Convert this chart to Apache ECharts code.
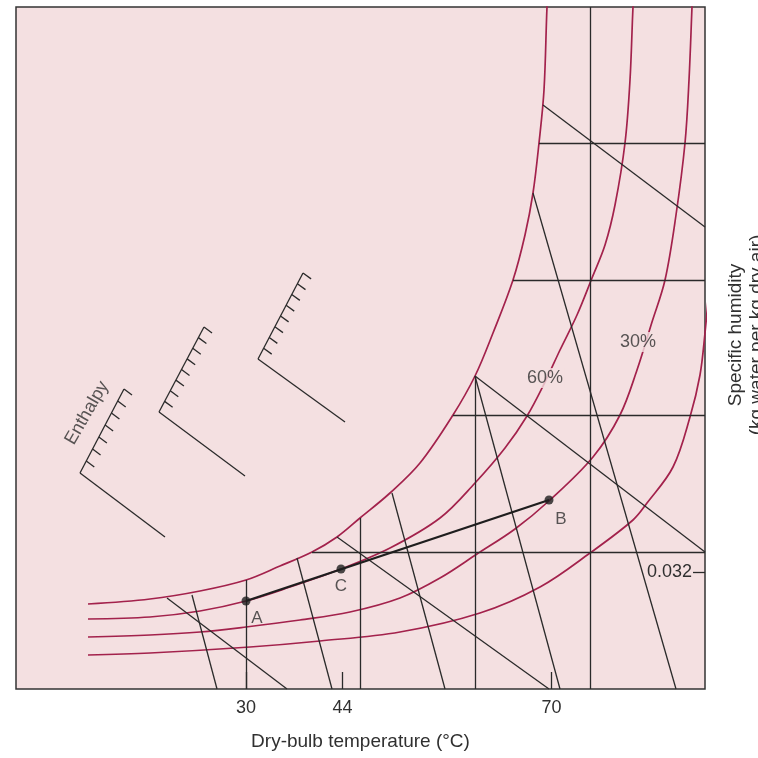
<!DOCTYPE html>
<html>
<head>
<meta charset="utf-8">
<script src="https://cdn.jsdelivr.net/npm/echarts@6/dist/echarts.min.js"></script>
<style>html,body{margin:0;padding:0;background:#fff;}#c{width:758px;height:758px;}</style>
</head>
<body>
<div id="c"></div>
<script>
// Schematic psychrometric chart (chart units: schematic coordinates)
const xTickValues = [230, 326.5, 535.5];
const xTickLabels = ['30', '44', '70'];
const yTickValues = [117];
const yTickLabels = ['0.032'];

// relative humidity curves
const rh100 = [[72,85],[134,90],[184,98],[230,109],[264,123],[296,137],[321,152],[344,171],[374,196],[404,226],[437,274],[459,313],[477,356],[497,409],[509,454],[517,496],[523,546],[528,599],[531,682],[532,694]];
const rh60 = [[72,70],[134,72],[184,78],[230,88],[274,102],[325,120],[374,141],[424,171],[459,206],[489,241],[511,273],[529,307],[544,339],[561,374],[576,411],[589,444],[599,484],[609,546],[614,609],[617,682],[618,694]];
const rh30 = [[72,52],[134,54],[184,57],[230,62],[284,69],[334,77],[384,91],[424,111],[461,135],[499,160],[534,189],[577,232],[604,274],[621,319],[636,367],[649,409],[660,474],[669,546],[673,609],[676,682],[676.5,694]];
const rh15 = [[72,34],[134,36],[234,42],[304,48],[384,57],[464,76],[524,102],[574,136],[617,169],[631,186],[657,222],[674,272],[684,314],[689,356],[692,389]];

// dry-bulb verticals, specific humidity horizontals, enthalpy & wet-bulb lines
const dryBulbLines = [[[230,109],[230,0]],[[344,171],[344,0]],[[459,313],[459,0]],[[574,682],[574,0]]];
const humidityLines = [[[296,137],[689,137]],[[437,274],[689,274]],[[497,409],[689,409]],[[523,546],[689,546]]];
const enthalpyLines = [[[151,91],[271,0]],[[321,152],[533,0]],[[459,313],[689,137]],[[527,584],[689,462]]];
const wetBulbLines = [[[176,94],[201,0]],[[281,131],[316,0]],[[376,196],[429,0]],[[459,313],[544,0]],[[517,496],[660,0]]];

// enthalpy scale brackets: corner, long-arm end, scale end, tick count
const bracketCorners = [[64,216],[143,277],[242,330]];
const bracketArms = [[149,152],[229,213],[329,267]];
const bracketScales = [[108,300],[188,362],[287,416]];
const bracketTicks = [7, 8, 8];

// process points
const pointNames = ['A','C','B'];
const pointValues = [[230,88],[325,120],[533,189]];

const rhLabels = ['60%','30%'];
const rhLabelPos = [[529,311],[622,347]];
const enthalpyLabelPos = [[71,276]];

const PINK = '#f4e0e1';
const CRIMSON = '#a3224c';
const DARK = '#2a2a2a';
const TXT = '#303030';
const FONT = '"Liberation Sans", Arial, sans-serif';

// build bracket segments
const bracketSegs = [];
for (let i = 0; i < bracketCorners.length; i++) {
  const c = bracketCorners[i], a = bracketArms[i], s = bracketScales[i], n = bracketTicks[i];
  bracketSegs.push([c, a]);
  bracketSegs.push([c, s]);
  const dx = a[0]-c[0], dy = a[1]-c[1], L = Math.hypot(dx, dy);
  const ux = dx/L*10, uy = dy/L*10;
  for (let k = 1; k <= n; k++) {
    const px = c[0] + (s[0]-c[0])*k/n, py = c[1] + (s[1]-c[1])*k/n;
    bracketSegs.push([[px,py],[px+ux,py+uy]]);
  }
}
const darkSegs = [].concat(dryBulbLines, humidityLines, enthalpyLines, wetBulbLines, bracketSegs);

function curve(d) {
  return {type:'line', data:d, smooth:0.35, symbol:'none', clip:true, z:2,
    lineStyle:{color:CRIMSON, width:1.7}};
}
const labelOffsets = {A:[11,0], C:[0,0], B:[12,2]};

const chart = echarts.init(document.getElementById('c'), null, {renderer:'canvas'});
chart.setOption({
  animation:false,
  textStyle:{fontFamily:FONT},
  grid:{left:16, top:7, width:689, height:682, show:true, backgroundColor:PINK, borderColor:'#333', borderWidth:1.5,
    containLabel:false, outerBoundsMode:'none'},
  xAxis:{type:'value', min:0, max:689,
    name:'Dry-bulb temperature (\u00B0C)', nameLocation:'middle', nameGap:43,
    nameTextStyle:{fontSize:19, color:TXT, fontFamily:FONT},
    axisLine:{show:false, onZero:false}, splitLine:{show:false},
    axisTick:{show:true, inside:true, length:17, customValues:xTickValues, lineStyle:{color:DARK, width:1.3}},
    axisLabel:{show:true, customValues:xTickValues, margin:10, fontSize:18, color:TXT, fontFamily:FONT,
      formatter:v => xTickLabels[xTickValues.indexOf(v)]}},
  yAxis:{type:'value', min:0, max:682, position:'right',
    name:'Specific humidity\n(kg water per kg dry air)', nameLocation:'middle', nameGap:20, nameRotate:90,
    nameTextStyle:{fontSize:19, color:TXT, fontFamily:FONT, lineHeight:21, padding:[0,0,0,26]},
    axisLine:{show:false, onZero:false}, splitLine:{show:false},
    axisTick:{show:true, inside:true, length:12, customValues:yTickValues, lineStyle:{color:DARK, width:1.3}},
    axisLabel:{show:true, inside:true, customValues:yTickValues, margin:13, fontSize:18, color:TXT, fontFamily:FONT,
      formatter:v => yTickLabels[yTickValues.indexOf(v)]}},
  series:[
    curve(rh100), curve(rh60), curve(rh30), curve(rh15),
    {type:'lines', coordinateSystem:'cartesian2d', polyline:false, z:3, clip:true,
      data:darkSegs.map(s => ({coords:s})),
      lineStyle:{color:DARK, width:1.3, opacity:1}},
    {type:'lines', coordinateSystem:'cartesian2d', polyline:false, z:4,
      data:[{coords:[pointValues[0], pointValues[2]]}],
      lineStyle:{color:'#1e1e1e', width:2.2, opacity:1}},
    {type:'scatter', z:5, symbolSize:9, itemStyle:{color:'#1e1e1e'},
      data:pointNames.map((n,i) => ({name:n, value:pointValues[i], label:{offset:labelOffsets[n]}})),
      label:{show:true, position:'bottom', distance:4, formatter:'{b}', fontSize:17, color:TXT, fontFamily:FONT}},
    {type:'scatter', z:6, symbolSize:0, silent:true,
      data:rhLabels.map((t,i) => ({name:t, value:rhLabelPos[i]})),
      label:{show:true, position:'inside', formatter:'{b}', fontSize:18, color:TXT, fontFamily:FONT,
        backgroundColor:PINK, padding:[1,1]}},
    {type:'scatter', z:6, symbolSize:0, silent:true,
      data:enthalpyLabelPos.map(p => ({name:'Enthalpy', value:p})),
      label:{show:true, position:'inside', formatter:'{b}', rotate:60, fontSize:18, color:TXT, fontFamily:FONT}}
  ]
});
</script>
</body>
</html>
